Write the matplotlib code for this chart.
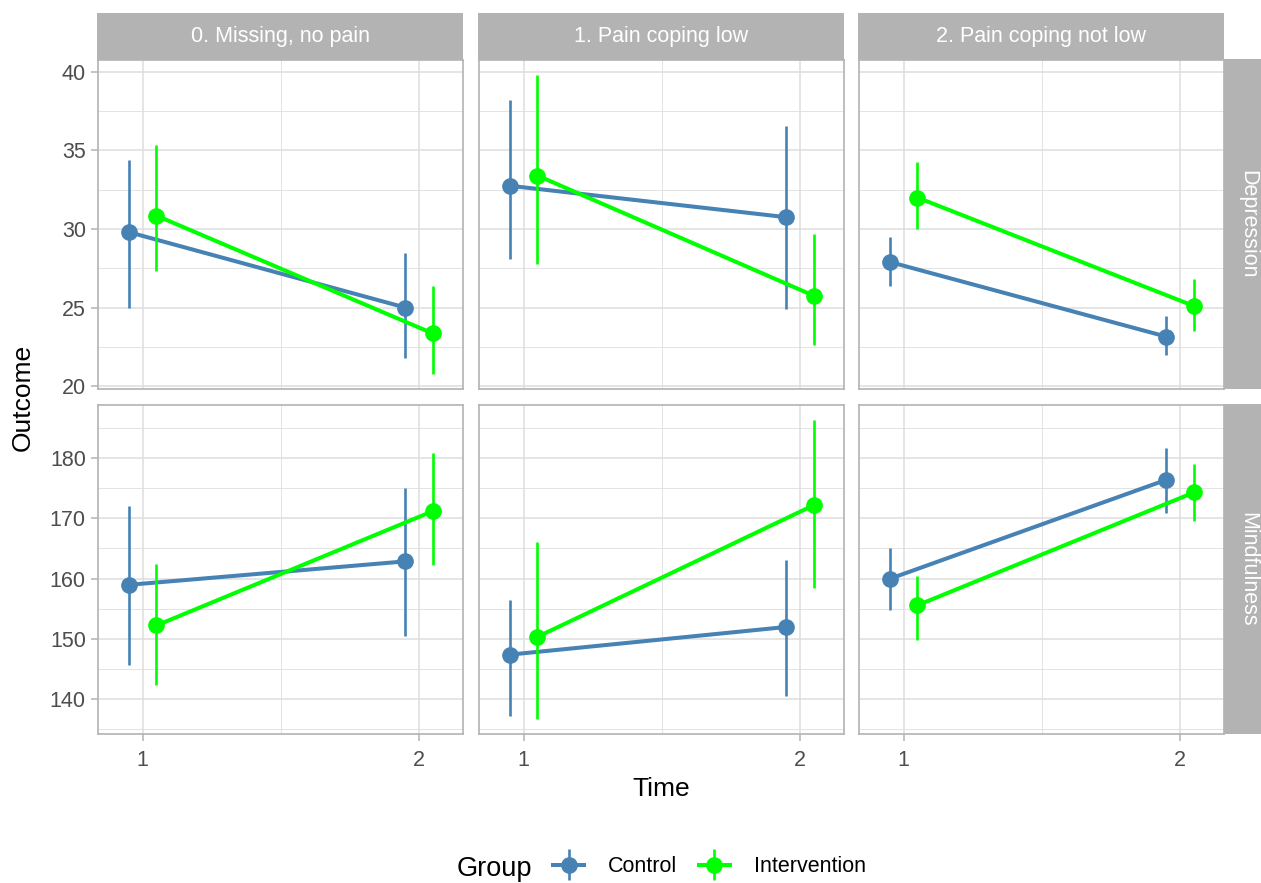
import matplotlib
matplotlib.use("Agg")
import matplotlib.pyplot as plt
from matplotlib.ticker import MultipleLocator, FixedLocator
from matplotlib.container import ErrorbarContainer
from matplotlib.legend_handler import HandlerErrorbar
import numpy as np

plt.rcParams['font.family'] = ['Liberation Sans', 'DejaVu Sans']

# ---------------- data ----------------
panels = ["0. Missing, no pain", "1. Pain coping low", "2. Pain coping not low"]
outcomes = ["Depression", "Mindfulness"]
groups = ["Control", "Intervention"]
times = [1, 2]
time_labels = ["1", "2"]

dep_control_mean = [[29.8, 25.0], [32.75, 30.75], [27.9, 23.15]]
dep_control_lo = [[25.0, 21.8], [28.1, 24.9], [26.35, 21.95]]
dep_control_hi = [[34.4, 28.5], [38.2, 36.55], [29.5, 24.45]]
dep_interv_mean = [[30.85, 23.35], [33.4, 25.75], [32.0, 25.1]]
dep_interv_lo = [[27.3, 20.75], [27.75, 22.6], [30.0, 23.5]]
dep_interv_hi = [[35.35, 26.4], [39.8, 29.65], [34.25, 26.8]]

mind_control_mean = [[158.95, 162.85], [147.35, 151.95], [159.95, 176.4]]
mind_control_lo = [[145.7, 150.4], [137.2, 140.45], [154.8, 170.9]]
mind_control_hi = [[172.0, 175.1], [156.35, 163.1], [165.1, 181.75]]
mind_interv_mean = [[152.2, 171.2], [150.3, 172.2], [155.55, 174.3]]
mind_interv_lo = [[142.25, 162.25], [136.6, 158.45], [149.75, 169.6]]
mind_interv_hi = [[162.45, 180.9], [166.0, 186.35], [160.5, 179.1]]

# ---------------- style ----------------
W, H = 1261, 883
colors = {"Control": "#4682B4", "Intervention": "#00FF00"}
dodge = {"Control": -0.05, "Intervention": 0.05}
STRIP = "#B3B3B3"
GRID = "#DEDEDE"
TICKCOL = "#4D4D4D"

fig = plt.figure(figsize=(W / 100, H / 100), dpi=100)
fig.patch.set_facecolor("white")


def px_axes(left, top, width, height, **kw):
    return fig.add_axes([left / W, 1 - (top + height) / H, width / W, height / H], **kw)


col_left = [98.3, 479.3, 859.3]
col_w = 365.0
row_top = [60.0, 405.0]
row_h = 329.3

data = {
    "Depression": {
        "Control": (dep_control_mean, dep_control_lo, dep_control_hi),
        "Intervention": (dep_interv_mean, dep_interv_lo, dep_interv_hi),
    },
    "Mindfulness": {
        "Control": (mind_control_mean, mind_control_lo, mind_control_hi),
        "Intervention": (mind_interv_mean, mind_interv_lo, mind_interv_hi),
    },
}
major_step = {"Depression": 5, "Mindfulness": 10}

handles = {}
for r, outc in enumerate(outcomes):
    # row-wise y range with 5% expansion (ggplot-like)
    allv = []
    for g in groups:
        m, lo, hi = data[outc][g]
        allv += list(np.ravel(lo)) + list(np.ravel(hi))
    ymin, ymax = min(allv), max(allv)
    pad = 0.05 * (ymax - ymin)
    for c, pan in enumerate(panels):
        ax = px_axes(col_left[c], row_top[r], col_w, row_h)
        ax.set_facecolor("white")
        for g in groups:
            m, lo, hi = data[outc][g]
            mm = np.array(m[c])
            err = np.vstack([mm - np.array(lo[c]), np.array(hi[c]) - mm])
            xs = np.array(times) + dodge[g]
            cont = ax.errorbar(xs, mm, yerr=err, fmt='-o', color=colors[g],
                               lw=2.9, ms=11, elinewidth=1.9, capsize=0,
                               zorder=3 if g == "Control" else 4)
            handles[g] = cont
        ax.set_xlim(0.84, 2.16)
        ax.set_ylim(ymin - pad, ymax + pad)
        step = major_step[outc]
        ax.yaxis.set_major_locator(MultipleLocator(step))
        ax.yaxis.set_minor_locator(MultipleLocator(step / 2))
        ax.xaxis.set_major_locator(FixedLocator(times))
        ax.xaxis.set_minor_locator(FixedLocator([1.5]))
        ax.grid(True, which='major', color=GRID, lw=1.1, zorder=0)
        ax.grid(True, which='minor', color=GRID, lw=0.6, zorder=0)
        ax.set_axisbelow(True)
        for s in ax.spines.values():
            s.set_color(STRIP)
            s.set_linewidth(1.2)
        ax.tick_params(which='minor', length=0)
        ax.tick_params(which='major', color=STRIP, length=5, width=1.1,
                       labelcolor=TICKCOL, labelsize=15.5, pad=4)
        if c == 0:
            ax.tick_params(axis='y', left=True, labelleft=True)
        else:
            ax.tick_params(axis='y', left=False, labelleft=False)
        if r == 1:
            ax.set_xticklabels(time_labels)
            ax.tick_params(axis='x', bottom=True, labelbottom=True, pad=6)
        else:
            ax.tick_params(axis='x', bottom=False, labelbottom=False)

# top strips
for c, pan in enumerate(panels):
    sa = px_axes(col_left[c] - 1, 13.3, col_w + 1, 46.7)
    sa.set_facecolor(STRIP)
    sa.set_xticks([]); sa.set_yticks([])
    for s in sa.spines.values():
        s.set_visible(False)
    sa.text(0.5, 0.5, pan, ha='center', va='center', color='white', fontsize=15.5,
            transform=sa.transAxes)

# right strips
for r, outc in enumerate(outcomes):
    sa = px_axes(1224, row_top[r] - 1, 46.7, row_h + 1)
    sa.set_facecolor(STRIP)
    sa.set_xticks([]); sa.set_yticks([])
    for s in sa.spines.values():
        s.set_visible(False)
    sa.text(0.5, 0.5, outc, ha='center', va='center', color='white', fontsize=15.5,
            rotation=-90, transform=sa.transAxes)

# axis titles
fig.text(23 / W, 1 - 397 / H, "Outcome", rotation=90, ha='center', va='center',
         fontsize=19, color='black')
fig.text(661 / W, 1 - 789 / H, "Time", ha='center', va='center', fontsize=19,
         color='black')

# legend
fig.text(457 / W, 1 - 869 / H, "Group", ha='left', va='center', fontsize=19.5,
         color='black')
leg = fig.legend([handles["Control"], handles["Intervention"]], groups,
                 loc='center left', bbox_to_anchor=(553 / W, 1 - 867 / H),
                 ncol=2, frameon=False, fontsize=15.5, handlelength=1.45,
                 handletextpad=1.1, columnspacing=1.0, borderpad=0,
                 borderaxespad=0,
                 handler_map={ErrorbarContainer: HandlerErrorbar(xerr_size=0.5, yerr_size=0.72)})

fig.savefig("out.png", dpi=100, facecolor="white")
